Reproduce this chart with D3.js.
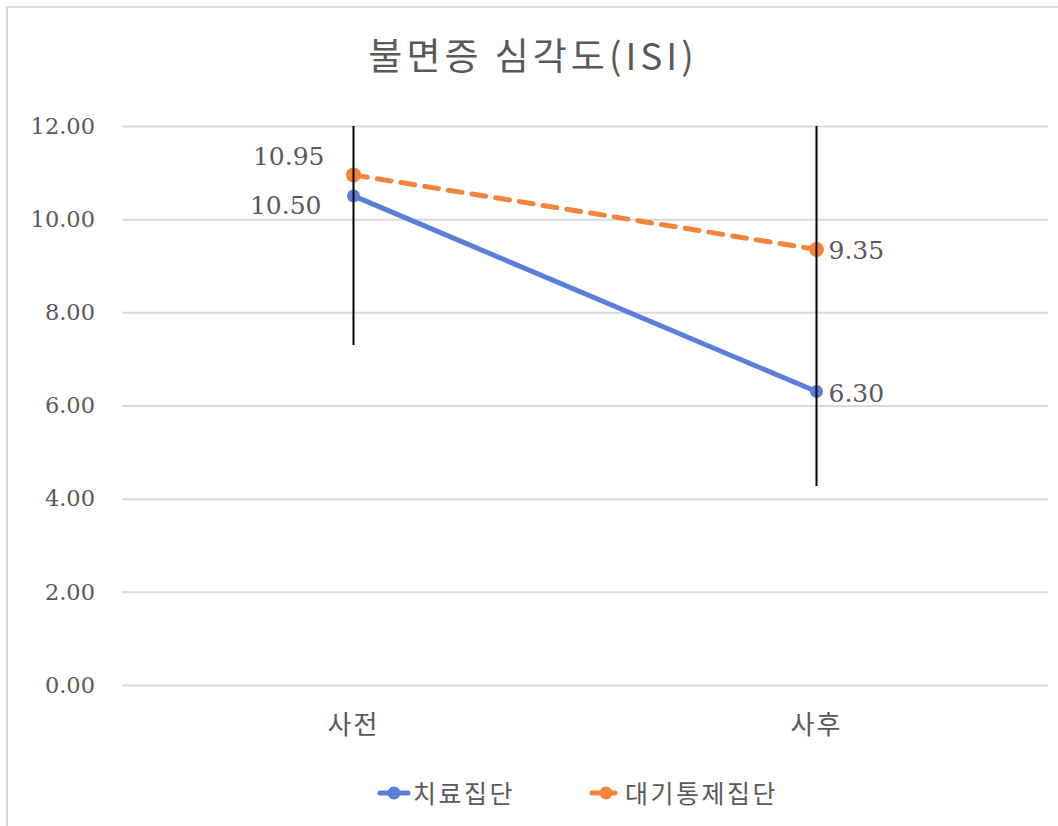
<!DOCTYPE html>
<html>
<head>
<meta charset="utf-8">
<script src="https://cdn.jsdelivr.net/npm/d3@7/dist/d3.min.js"></script>
<style>
  html, body { margin: 0; padding: 0; background: #fff; }
  svg { display: block; }
</style>
</head>
<body>
<svg id="chart" width="1058" height="826"></svg>
<script>
// Insomnia severity (ISI), pre/post, treatment vs. wait-list control
const categories = ["사전", "사후"];
const seriesNames = ["치료집단", "대기통제집단"];
const treatmentValues = [10.50, 6.30];
const controlValues = [10.95, 9.35];
const controlErrors = [3.65, 5.08];
const yTicks = [0, 2, 4, 6, 8, 10, 12];
const titleText = "불면증 심각도(ISI)";

const W = 1058, H = 826;
const margin = { left: 122, right: 10, top: 126, bottom: 141 };
const svg = d3.select("#chart");

const numFont = "'DejaVu Serif', 'Liberation Serif', serif";
const korFont = "'Noto Sans CJK KR', sans-serif";
const textColor = "#595959";

// Chart frame
svg.append("rect")
  .attr("x", 7).attr("y", 7)
  .attr("width", W + 20).attr("height", H + 20)
  .attr("fill", "none").attr("stroke", "#d9d9d9").attr("stroke-width", 2);

const x = d3.scaleBand().domain(categories).range([margin.left, W - margin.right]);
const y = d3.scaleLinear().domain([0, 12]).range([H - margin.bottom, margin.top]);
const cx = c => x(c) + x.bandwidth() / 2;

// Gridlines and y labels
const yAxis = d3.axisLeft(y).tickValues(yTicks)
  .tickSize(-(W - margin.right - margin.left))
  .tickFormat(d3.format(".2f"))
  .tickPadding(27);
const gy = svg.append("g").attr("transform", `translate(${margin.left},0)`).call(yAxis);
gy.select(".domain").remove();
gy.selectAll(".tick line").attr("stroke", "#d9d9d9").attr("stroke-width", 2);
gy.selectAll(".tick text")
  .attr("fill", textColor).attr("font-family", numFont).attr("font-size", 22.5);

// Category labels
const xAxis = d3.axisBottom(x).tickSize(0).tickPadding(31);
const gx = svg.append("g").attr("transform", `translate(0,${H - margin.bottom})`).call(xAxis);
gx.select(".domain").remove();
gx.selectAll(".tick text")
  .attr("fill", textColor).attr("font-family", korFont).attr("font-size", 26)
  .attr("letter-spacing", 2);

// Series lines
const line = d3.line().x((d, i) => cx(categories[i])).y(d => y(d));
const blue = "#5b7fd9", orange = "#f5843a";

svg.append("path").datum(treatmentValues)
  .attr("d", line).attr("fill", "none")
  .attr("stroke", blue).attr("stroke-width", 5).attr("stroke-linecap", "round");
svg.append("path").datum(controlValues)
  .attr("d", line).attr("fill", "none")
  .attr("stroke", orange).attr("stroke-width", 5)
  .attr("stroke-dasharray", "14 10").attr("stroke-linecap", "round");

// Markers
svg.selectAll(".m-t").data(treatmentValues).join("circle")
  .attr("cx", (d, i) => cx(categories[i])).attr("cy", d => y(d))
  .attr("r", 6.5).attr("fill", blue);
svg.selectAll(".m-c").data(controlValues).join("circle")
  .attr("cx", (d, i) => cx(categories[i])).attr("cy", d => y(d))
  .attr("r", 7.5).attr("fill", orange);

// Error bars (clipped to the axis range)
svg.selectAll(".err").data(controlValues).join("line")
  .attr("x1", (d, i) => cx(categories[i])).attr("x2", (d, i) => cx(categories[i]))
  .attr("y1", (d, i) => y(Math.min(12, d + controlErrors[i])))
  .attr("y2", (d, i) => y(Math.max(0, d - controlErrors[i])))
  .attr("stroke", "#000").attr("stroke-width", 2);

// Data labels
const fmt = d3.format(".2f");
const labelLayout = [
  { vals: treatmentValues, pre: { dx: -32, dy: 18, anchor: "end" }, post: { dx: 12, dy: 10, anchor: "start" } },
  { vals: controlValues, pre: { dx: -29, dy: -10, anchor: "end" }, post: { dx: 12, dy: 10, anchor: "start" } }
];
labelLayout.forEach(s => {
  s.vals.forEach((v, i) => {
    const p = i === 0 ? s.pre : s.post;
    svg.append("text")
      .attr("x", cx(categories[i]) + p.dx).attr("y", y(v) + p.dy)
      .attr("text-anchor", p.anchor)
      .attr("fill", textColor).attr("font-family", numFont).attr("font-size", 25)
      .text(fmt(v));
  });
});

// Title
svg.append("text")
  .attr("x", W / 2 + 4).attr("y", 70)
  .attr("text-anchor", "middle")
  .attr("fill", textColor).attr("font-family", korFont).attr("font-size", 37)
  .attr("letter-spacing", 4)
  .text(titleText);

// Legend
const legend = [
  { name: seriesNames[0], color: blue, dash: null, x: 380 },
  { name: seriesNames[1], color: orange, dash: "9 5", x: 592 }
];
const ly = 793;
legend.forEach(l => {
  svg.append("line")
    .attr("x1", l.x).attr("x2", l.x + 28).attr("y1", ly).attr("y2", ly)
    .attr("stroke", l.color).attr("stroke-width", 5)
    .attr("stroke-dasharray", l.dash).attr("stroke-linecap", "round");
  svg.append("circle").attr("cx", l.x + 14).attr("cy", ly).attr("r", 6.5).attr("fill", l.color);
  svg.append("text")
    .attr("x", l.x + 33).attr("y", ly + 10)
    .attr("fill", textColor).attr("font-family", korFont).attr("font-size", 25)
    .attr("letter-spacing", 2.5)
    .text(l.name);
});
</script>
</body>
</html>
